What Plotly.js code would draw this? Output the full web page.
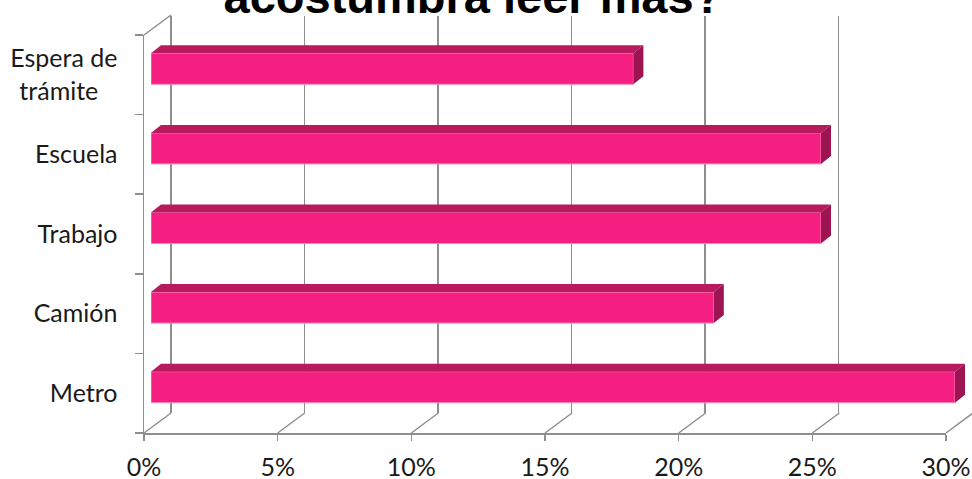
<!DOCTYPE html>
<html>
<head>
<meta charset="utf-8">
<script src="https://cdn.plot.ly/plotly-3.0.1.min.js"></script>
<style>html,body{margin:0;padding:0;background:#fff;}#chart{width:972px;height:479px;}</style>
</head>
<body>
<div id="chart"></div>
<script>
// ---- data ----
var categories = ['Metro', 'Camión', 'Trabajo', 'Escuela', 'Espera de<br>trámite&nbsp;&nbsp;&nbsp;'];
var values = [30, 21, 25, 25, 18];
var tickValues = [0, 5, 10, 15, 20, 25, 30];
var tickLabels = ['0%', '5%', '10%', '15%', '20%', '25%', '30%'];
var titleText = 'acostumbra leer más?';

// ---- layout helpers (pixel -> paper fraction) ----
var W = 972, H = 479;
function fx(px) { return px / W; }
function fy(py) { return (H - py) / H; }

// front plane: 0% at 144px, 30% at 946px; categories from 35px to 433px
var FX0 = 144, FX1 = 946, FYT = 35, FYB = 433;
// back wall offset
var DX = 27, DY = -20;
// bar plane
var BX0 = 151, BX1 = 972, BPX = 26.8, BYT = 29, BYB = 427;
// bar depth in data units
var barW = 0.39, ddx = 10 / BPX, ddy = 8 / ((BYB - BYT) / 5);

var idx = categories.map(function (c, i) { return i; });

var traces = [
  { // invisible trace establishing the front category axis
    type: 'scatter', x: values, y: categories, mode: 'markers',
    marker: { opacity: 0 }, hoverinfo: 'skip', showlegend: false,
    xaxis: 'x', yaxis: 'y'
  },
  { // invisible trace for the back wall
    type: 'scatter', x: values, y: idx, mode: 'markers',
    marker: { opacity: 0 }, hoverinfo: 'skip', showlegend: false,
    xaxis: 'x2', yaxis: 'y2'
  },
  { // bar front faces
    type: 'bar', orientation: 'h', x: values, y: idx, width: barW,
    marker: { color: '#F41F80', line: { color: '#F88DBC', width: 1 } },
    hoverinfo: 'x', showlegend: false,
    xaxis: 'x3', yaxis: 'y3'
  }
];

var shapes = [];
// 3D top and side faces of bars
values.forEach(function (v, i) {
  var yt = i + barW / 2, yb = i - barW / 2;
  shapes.push({
    type: 'path', xref: 'x3', yref: 'y3', layer: 'above',
    path: 'M0,' + yt + ' L' + v + ',' + yt + ' L' + (v + ddx) + ',' + (yt + ddy) + ' L' + ddx + ',' + (yt + ddy) + ' Z',
    fillcolor: '#B8195F', line: { width: 0 }
  });
  shapes.push({
    type: 'path', xref: 'x3', yref: 'y3', layer: 'above',
    path: 'M' + v + ',' + yb + ' L' + v + ',' + yt + ' L' + (v + ddx) + ',' + (yt + ddy) + ' L' + (v + ddx) + ',' + (yb + ddy) + ' Z',
    fillcolor: '#9C1452', line: { width: 0 }
  });
});
// floor diagonals from each front tick to the back wall
var pxPerPct = (FX1 - FX0) / 30;
tickValues.forEach(function (t) {
  var x0 = FX0 + t * pxPerPct;
  shapes.push({
    type: 'line', xref: 'paper', yref: 'paper', layer: 'below',
    x0: fx(x0), y0: fy(FYB), x1: fx(x0 + DX), y1: fy(FYB + DY),
    line: { color: '#8E8E8E', width: 1.5 }
  });
});
// side wall top diagonal
shapes.push({
  type: 'line', xref: 'paper', yref: 'paper', layer: 'below',
  x0: fx(FX0), y0: fy(FYT), x1: fx(FX0 + DX), y1: fy(FYT + DY),
  line: { color: '#8E8E8E', width: 1.5 }
});

var grey = '#8E8E8E';
var tickFont = { family: 'Lato, Carlito, Calibri, sans-serif', size: 25, color: '#1A1A1A' };

var layout = {
  width: W, height: H,
  margin: { l: 0, r: 0, t: 0, b: 0 },
  paper_bgcolor: '#FFFFFF', plot_bgcolor: 'rgba(0,0,0,0)',
  showlegend: false,
  title: {
    text: titleText,
    font: { family: 'Liberation Sans, Arial, sans-serif', size: 47, color: '#000000', weight: 'bold' },
    x: fx(473), xanchor: 'center', xref: 'paper',
    y: fy(13), yanchor: 'bottom', yref: 'container'
  },
  xaxis: {
    domain: [fx(FX0), fx(FX1)], range: [0, 30], anchor: 'y',
    showgrid: false, zeroline: false, showline: true, linecolor: grey, linewidth: 1.5,
    ticks: 'outside', ticklen: 6, tickwidth: 1.5, tickcolor: grey,
    tickvals: tickValues, ticktext: tickLabels, tickfont: tickFont, ticklabelstandoff: 5,
    fixedrange: true
  },
  yaxis: {
    domain: [fy(FYB), fy(FYT)], type: 'category', categoryorder: 'array', categoryarray: categories,
    range: [-0.5, categories.length - 0.5], anchor: 'x',
    showgrid: false, zeroline: false, showline: true, linecolor: grey, linewidth: 1.5,
    ticks: 'outside', ticklen: 8, tickwidth: 1.5, tickcolor: grey, tickson: 'boundaries',
    tickfont: tickFont, ticklabelstandoff: 20, fixedrange: true
  },
  xaxis2: {
    domain: [fx(FX0 + DX), fx(FX1 + DX)], range: [0, 30], anchor: 'y2',
    showgrid: true, gridcolor: grey, gridwidth: 1.5, dtick: 5,
    zeroline: true, zerolinecolor: grey, zerolinewidth: 1.5,
    showline: false, showticklabels: false, ticks: '', fixedrange: true
  },
  yaxis2: {
    domain: [fy(FYB + DY), fy(FYT + DY + 1)], range: [-0.5, 4.5], anchor: 'x2',
    showgrid: false, zeroline: false, showline: false, showticklabels: false, ticks: '', fixedrange: true
  },
  xaxis3: {
    domain: [fx(BX0), fx(BX1)], range: [0, (BX1 - BX0) / BPX], anchor: 'y3',
    showgrid: false, zeroline: false, showline: false, showticklabels: false, ticks: '', fixedrange: true
  },
  yaxis3: {
    domain: [fy(BYB), fy(BYT)], range: [-0.5, 4.5], anchor: 'x3',
    showgrid: false, zeroline: false, showline: false, showticklabels: false, ticks: '', fixedrange: true
  },
  shapes: shapes,
  bargap: 0
};

Plotly.newPlot('chart', traces, layout, { displayModeBar: false, staticPlot: true });
</script>
</body>
</html>
